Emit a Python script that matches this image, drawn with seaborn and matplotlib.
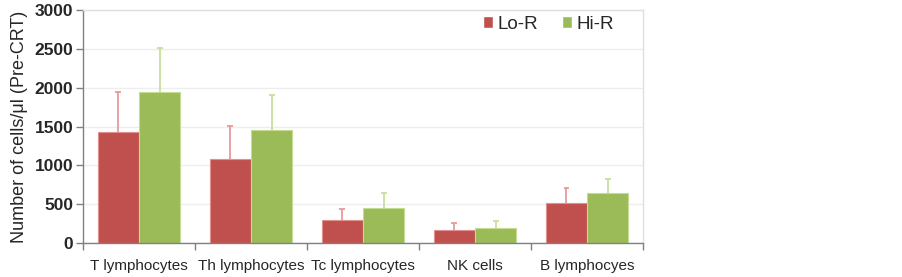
import matplotlib
matplotlib.use("Agg")
import matplotlib.pyplot as plt
import seaborn as sns
import pandas as pd
import numpy as np

categories = ["T lymphocytes", "Th lymphocytes", "Tc lymphocytes", "NK cells", "B lymphocyes"]
groups = ["Lo-R", "Hi-R"]
lo_means = [1433, 1084, 293, 168, 512]
lo_err = [509, 419, 138, 86, 194]
hi_means = [1942, 1459, 448, 190, 638]
hi_err = [568, 452, 197, 94, 184]
yticks = [0, 500, 1000, 1500, 2000, 2500, 3000]

colors = {"Lo-R": "#C0504D", "Hi-R": "#9BBB59"}
edge_colors = {"Lo-R": "#E0908E", "Hi-R": "#C4DC8F"}
err_colors = {"Lo-R": "#E8999A", "Hi-R": "#C9DF9E"}

df = pd.DataFrame({
    "category": categories * 2,
    "group": ["Lo-R"] * len(categories) + ["Hi-R"] * len(categories),
    "value": lo_means + hi_means,
    "err": lo_err + hi_err,
})

sns.set_theme(style="white")
plt.rcParams["font.family"] = ["Liberation Sans", "DejaVu Sans"]

fig = plt.figure(figsize=(9.03, 2.77), dpi=100)
ax = fig.add_axes([0.0919, 0.1238, 0.6202, 0.839])

sns.barplot(data=df, x="category", y="value", hue="group", order=categories,
            hue_order=groups, palette=colors, width=0.74, errorbar=None,
            saturation=1, ax=ax, legend=True)

# upper-only error bars positioned from the bar patches
cap_half = 0.025
for g, cont in zip(groups, ax.containers):
    sub = df[df["group"] == g].set_index("category").loc[categories]
    xs = np.array([p.get_x() + p.get_width() / 2 for p in cont.patches])
    for p in cont.patches:
        p.set_edgecolor(edge_colors[g])
        p.set_linewidth(0.8)
    tops = sub["value"].values + sub["err"].values
    ax.vlines(xs, sub["value"].values, tops, colors=err_colors[g], linewidth=1.3, zorder=3)
    ax.hlines(tops, xs - cap_half, xs + cap_half, colors=err_colors[g], linewidth=1.3, zorder=3)

ax.set_xlim(-0.5, len(categories) - 0.5)
ax.set_ylim(0, 3000)
ax.set_yticks(yticks)
ax.set_yticklabels([str(t) for t in yticks], fontsize=12.5, fontweight="bold")
ax.yaxis.grid(True, color="#EEEEEE", linewidth=1)
ax.set_axisbelow(True)

ax.set_xticks(range(len(categories)))
ax.set_xticklabels(categories, fontsize=11)
ax.set_xticks(np.arange(-0.5, len(categories), 1.0), minor=True)
ax.tick_params(axis="x", which="major", length=0, pad=12)
ax.tick_params(axis="x", which="minor", length=5, width=1, color="#808080", direction="out", bottom=True)
ax.tick_params(axis="y", which="major", length=5, width=1, color="#808080", direction="out", left=True, pad=2)

ax.set_xlabel("")
ax.set_ylabel("Number of cells/μl (Pre-CRT)", fontsize=13, labelpad=5)

for s in ["left", "bottom"]:
    ax.spines[s].set_color("#808080")
    ax.spines[s].set_linewidth(1)
for s in ["top", "right"]:
    ax.spines[s].set_color("#E0E0E0")
    ax.spines[s].set_linewidth(1)

leg = ax.legend(loc="center right", ncol=2, frameon=False, fontsize=13.5,
                handlelength=0.55, handleheight=0.55, handletextpad=0.25,
                columnspacing=1.25, bbox_to_anchor=(0.962, 0.941), borderaxespad=0)

fig.savefig("out.png", dpi=100)
